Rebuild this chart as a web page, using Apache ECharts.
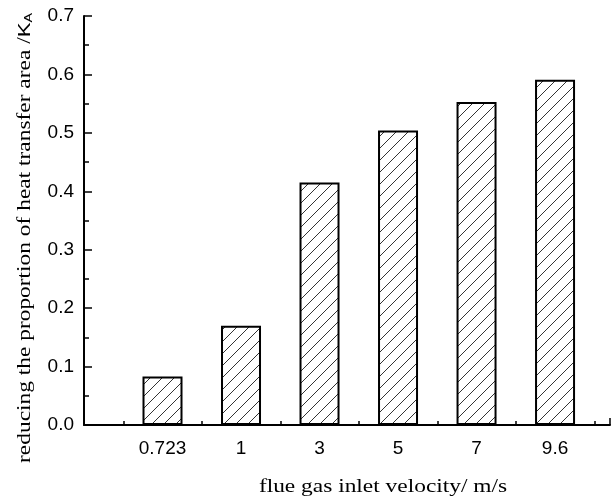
<!DOCTYPE html>
<html><head><meta charset="utf-8">
<script src="https://cdn.jsdelivr.net/npm/echarts@6/dist/echarts.min.js"></script>
<style>html,body{margin:0;padding:0;background:#fff}#c{width:613px;height:501px}</style>
</head><body><div id="c"></div>
<script>
const categories = ['0.723', '1', '3', '5', '7', '9.6'];
const values = [0.083, 0.170, 0.415, 0.504, 0.553, 0.591];
const yTicks = [0, 0.1, 0.2, 0.3, 0.4, 0.5, 0.6, 0.7];
const xTitle = 'flue gas inlet velocity/ m/s';
const yTitle = 'reducing the proportion of heat transfer area /';
const yUnit = 'K';
const ySub = 'A';

const pc = document.createElement('canvas');
pc.width = 12; pc.height = 12;
const g = pc.getContext('2d');
g.fillStyle = '#fff'; g.fillRect(0, 0, 12, 12);
g.strokeStyle = '#333'; g.lineWidth = 1;
g.beginPath();
g.moveTo(-1, 13); g.lineTo(13, -1);
g.moveTo(-13, 13); g.lineTo(1, -1);
g.moveTo(11, 13); g.lineTo(25, -1);
g.stroke();

const chart = echarts.init(document.getElementById('c'), null, {renderer: 'canvas'});
chart.setOption({
  animation: false,
  backgroundColor: '#fff',
  grid: {left: 84, top: 16, right: 0, bottom: 76, containLabel: false},
  xAxis: {
    type: 'value', min: 0, max: 6.7, interval: 1,
    axisLine: {lineStyle: {color: '#000', width: 2}},
    axisTick: {inside: true, length: 7, lineStyle: {color: '#000', width: 1.5}},
    minorTick: {show: true, splitNumber: 2, length: 4, lineStyle: {color: '#000', width: 1.5}},
    splitLine: {show: false},
    axisLabel: {
      margin: 14, color: '#000', fontFamily: 'Liberation Sans, Arial', fontSize: 19,
      formatter: v => categories[Math.round(v) - 1] || ''
    }
  },
  yAxis: {
    type: 'value', min: yTicks[0], max: yTicks[yTicks.length - 1], interval: 0.1,
    axisLine: {show: true, lineStyle: {color: '#000', width: 2}},
    axisTick: {show: true, inside: true, length: 8, lineStyle: {color: '#000', width: 1.5}},
    minorTick: {show: true, splitNumber: 2, length: 5, lineStyle: {color: '#000', width: 1.5}},
    splitLine: {show: false},
    axisLabel: {margin: 10, color: '#000', fontFamily: 'Liberation Sans, Arial', fontSize: 19,
      formatter: v => v.toFixed(1)}
  },
  graphic: [
    {type: 'text', x: 383, y: 487, scaleX: 1.3,
     style: {text: xTitle, fill: '#000', font: '18px "Liberation Serif", serif', textAlign: 'center', textVerticalAlign: 'middle'}},
    {type: 'text', x: 25, y: 238, rotation: Math.PI / 2, scaleX: 1.3,
     style: {text: '{a|' + yTitle + '}{k|' + yUnit + '}{b|' + ySub + '}', fill: '#000', textAlign: 'center', textVerticalAlign: 'middle',
       rich: {a: {fontFamily: 'Liberation Serif', fontSize: 18, fill: '#000'},
              k: {fontFamily: 'Liberation Sans', fontSize: 17, fill: '#000'},
              b: {fontFamily: 'Liberation Sans', fontSize: 11, fill: '#000', verticalAlign: 'bottom', padding: [8, 0, 0, 0]}}}}
  ],
  series: [{
    type: 'bar', barWidth: 40,
    data: values.map((v, i) => [i + 1, v]),
    itemStyle: {color: {image: pc, repeat: 'repeat'}, borderColor: '#000', borderWidth: 2}
  }]
});
</script></body></html>
